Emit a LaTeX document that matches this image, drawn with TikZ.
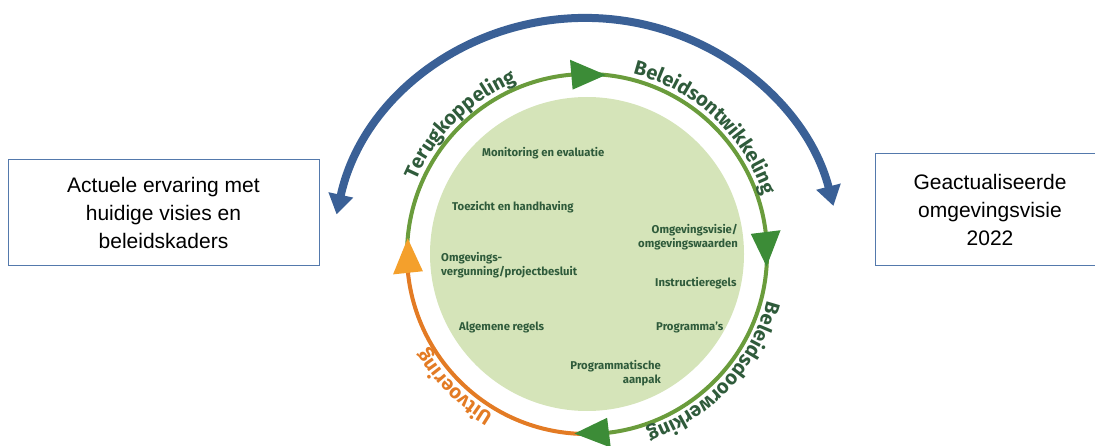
\documentclass[tikz,border=0pt]{standalone}
\usepackage{fontspec}
\setmainfont{Liberation Sans}
\newfontfamily\greenfont{Fira Sans}
\usetikzlibrary{arrows.meta,decorations.text}
\definecolor{ringgreen}{HTML}{6A9C3C}
\definecolor{tipgreen}{HTML}{3C8C37}
\definecolor{ringorange}{HTML}{E37B24}
\definecolor{tiporange}{HTML}{F4A02C}
\definecolor{diskgreen}{HTML}{D5E4B9}
\definecolor{textgreen}{HTML}{2F5B3B}
\definecolor{cycleblue}{HTML}{3A6096}
\definecolor{boxblue}{HTML}{5479AC}
\newcommand\ringfont{\greenfont\bfseries\fontsize{20}{20}\selectfont}

\begin{document}
\begin{tikzpicture}[x=1pt, y=1pt,
 infobox/.style={draw=boxblue, line width=1pt, align=center, font=\fontsize{21}{28}\selectfont},
 stage/.style={font=\greenfont\bfseries\fontsize{11.3}{14}\selectfont, text=textgreen, inner sep=0pt},
 phase/.style 2 args={decorate, decoration={text along path, text align=center, text color=#1, text={|\ringfont|#2}}}]
 \useasboundingbox (0,0) rectangle (1095,-446);
 \coordinate (hub) at (587,-254);
 \coordinate (loop) at (586,-266);
 \node[infobox, minimum width=311pt, minimum height=106pt] (ervaring) at (163.5,-213) {Actuele ervaring met\\huidige visies en\\beleidskaders};
 \node[infobox, minimum width=230pt, minimum height=112pt] (visie) at (990,-210) {Geactualiseerde\\omgevingsvisie\\2022};
 \draw[cycleblue, line width=8pt, {Triangle[width=24pt,length=20pt]}-{Triangle[width=24pt,length=20pt]}] ([shift={(168:255 and 248)}]loop) arc[start angle=168, end angle=14, x radius=255, y radius=248];
 \fill[diskgreen] (hub) circle[radius=157];
 \draw[ringgreen, line width=4pt] ([shift={(180:180)}]hub) arc[start angle=180, end angle=-90, radius=180];
 \draw[ringorange, line width=4pt] ([shift={(-90:180)}]hub) arc[start angle=-90, end angle=-180, radius=180];
 \foreach \a/\c in {84/tipgreen, -4/tipgreen, -94/tipgreen, 175/tiporange}
  \fill[\c] ([shift={(\a:180)}]hub) -- ([shift={({\a+11}:165)}]hub) -- ([shift={({\a+11}:195)}]hub) -- cycle;
 \path[phase={textgreen}{Terugkoppeling}] ([shift={(175:186)}]hub) arc[start angle=175, end angle=94, radius=186];
 \path[phase={textgreen}{Beleidsontwikkeling}] ([shift={(87:186)}]hub) arc[start angle=87, end angle=7, radius=186];
 \path[phase={textgreen}{Beleidsdoorwerking}] ([shift={(-3:186)}]hub) arc[start angle=-3, end angle=-83, radius=186];
 \path[phase={ringorange}{Uitvoering}] ([shift={(-95:186)}]hub) arc[start angle=-95, end angle=-175, radius=186];
 \node[stage, anchor=west] (monitoring) at (482,-153) {Monitoring en evaluatie};
 \node[stage, anchor=west] (toezicht) at (452,-207) {Toezicht en handhaving};
 \node[stage, anchor=east, align=right] (visies) at (738,-237) {Omgevingsvisie/\\omgevingswaarden};
 \node[stage, anchor=west, align=left] (vergunning) at (441,-265) {Omgevings-\\vergunning/projectbesluit};
 \node[stage, anchor=west] (instructie) at (655,-283) {Instructieregels};
 \node[stage, anchor=west] (algemeen) at (459,-327) {Algemene regels};
 \node[stage, anchor=west] (programmas) at (656,-327) {Programma’s};
 \node[stage, anchor=east, align=right] (aanpak) at (661,-373) {Programmatische\\aanpak};
\end{tikzpicture}
\end{document}
